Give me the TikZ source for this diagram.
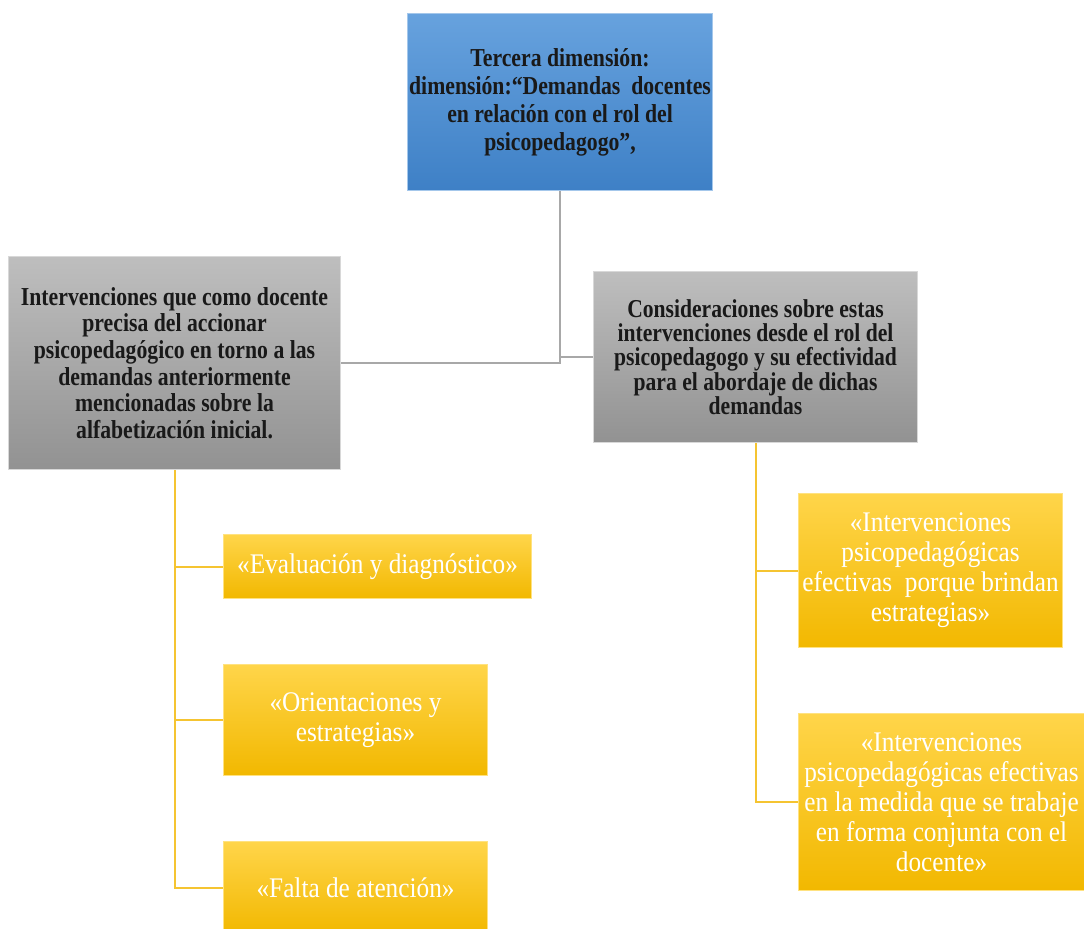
\documentclass[tikz,border=0pt]{standalone}
\usepackage{fontspec}
\setmainfont{Liberation Serif}
\newfontfamily\negrita[FakeStretch=0.84]{Liberation Serif}
\newfontfamily\clara[FakeStretch=0.89]{Liberation Serif}

\definecolor{azulclaro}{HTML}{67A2DE}
\definecolor{azul}{HTML}{3E80C6}
\definecolor{grisclaro}{HTML}{BEBEBE}
\definecolor{gris}{HTML}{929292}
\definecolor{amarilloclaro}{HTML}{FFD54A}
\definecolor{amarillo}{HTML}{F2B800}
\definecolor{lineagris}{HTML}{A8A8A8}
\definecolor{lineaamarilla}{HTML}{F5C431}

\tikzset{
  caja/.style 2 args={anchor=north west, minimum width=#1*0.75pt,
    minimum height=#2*0.75pt, inner sep=1pt, align=center},
  dimension/.style={draw=azulclaro!60!white, line width=0.8pt,
    top color=azulclaro, bottom color=azul, text=black!90,
    font=\negrita\bfseries\fontsize{19.4}{21}\selectfont},
  grupo/.style={draw=grisclaro!60!white, line width=0.8pt,
    top color=grisclaro, bottom color=gris, text=black!90,
    font=\negrita\bfseries\fontsize{19.4}{20}\selectfont},
  item/.style={draw=amarilloclaro!70!white, line width=0.8pt,
    top color=amarilloclaro, bottom color=amarillo, text=white,
    font=\clara\fontsize{21.3}{22.5}\selectfont},
  rama/.style={draw=lineagris, line width=1.5pt},
  hoja/.style={draw=lineaamarilla, line width=1.5pt}
}

\begin{document}
\begin{tikzpicture}[x=0.75pt, y=-0.75pt]
  \useasboundingbox (0,0) rectangle (1084,928);

  % dimension
  \node [dimension, caja={305}{177}] (dim) at (407,13)
    {Tercera dimensión:\\ dimensión:“Demandas\ \ docentes\\
     en relación con el rol del\\ psicopedagogo”,};

  % grupos
  \node [grupo, caja={332}{213}] (docente) at (8,256)
    {Intervenciones que como docente\\ precisa del accionar\\
     psicopedagógico en torno a las\\ demandas anteriormente\\
     mencionadas sobre la\\ alfabetización inicial.};

  \node [grupo, caja={324}{171}, font=\negrita\bfseries\fontsize{19.3}{18.2}\selectfont]
    (rol) at (593,271)
    {Consideraciones sobre estas\\ intervenciones desde el rol del\\
     psicopedagogo y su efectividad\\ para el abordaje de dichas\\ demandas};

  % items del docente
  \node [item, caja={308}{64}] (evaluacion) at (223,534)
    {«Evaluación y diagnóstico»};
  \node [item, caja={264}{111}] (orientaciones) at (223,664)
    {«Orientaciones y\\ estrategias»};
  \node [item, caja={264}{93}] (atencion) at (223,841)
    {«Falta de atención»};

  % items del rol
  \node [item, caja={264}{154}] (brindan) at (798,493)
    {«Intervenciones\\ psicopedagógicas\\ efectivas\ \ porque brindan\\ estrategias»};
  \node [item, caja={286}{177}] (conjunta) at (798,713)
    {«Intervenciones\\ psicopedagógicas efectivas\\ en la medida que se trabaje\\
     en forma conjunta con el\\ docente»};

  \draw [rama] (dim.south) |- (docente.east);
  \draw [rama] (dim.south) |- (rol.west);

  \draw [hoja] (docente.south) |- (evaluacion.west);
  \draw [hoja] (docente.south) |- (orientaciones.west);
  \draw [hoja] (docente.south) |- (atencion.west);

  \draw [hoja] (rol.south) |- (brindan.west);
  \draw [hoja] (rol.south) |- (conjunta.west);
\end{tikzpicture}
\end{document}
